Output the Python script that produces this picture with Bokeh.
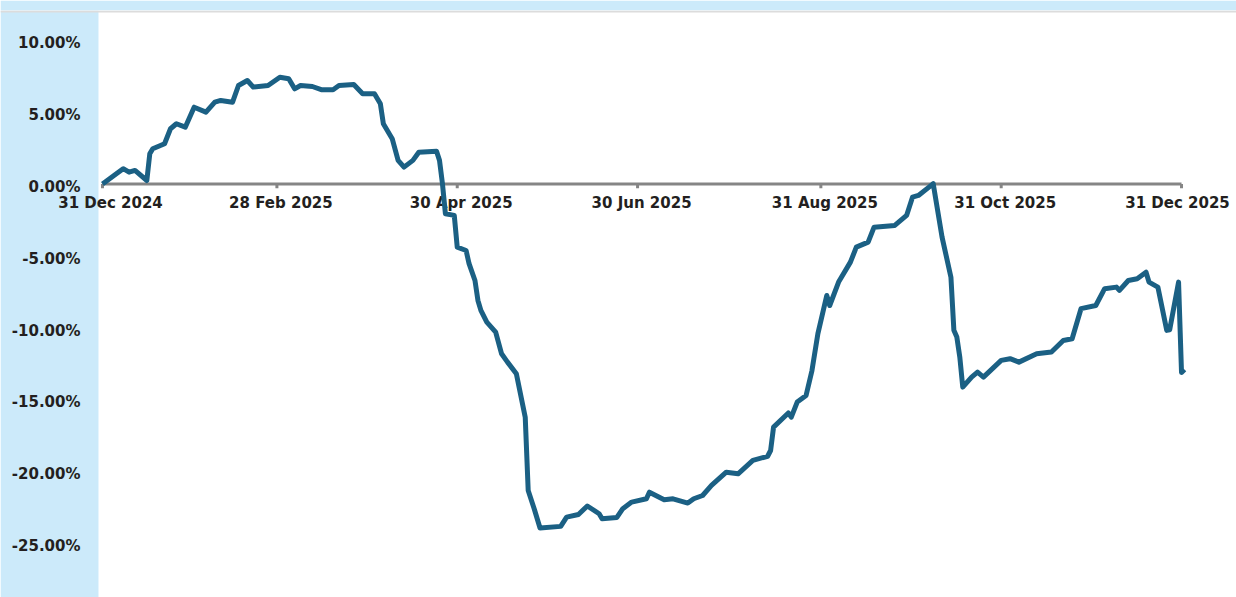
import pandas as pd
from bokeh.plotting import figure
from bokeh.models import (Range1d, ColumnDataSource, Span, BoxAnnotation)
from bokeh.core.properties import value
from bokeh.embed import file_html
from bokeh.resources import INLINE

# ---- data ----
dates = [
    "2024-12-31", "2025-01-04", "2025-01-07", "2025-01-09", "2025-01-11", "2025-01-15",
    "2025-01-16", "2025-01-17", "2025-01-21", "2025-01-23", "2025-01-25", "2025-01-28",
    "2025-01-31", "2025-02-04", "2025-02-07", "2025-02-09", "2025-02-13", "2025-02-15",
    "2025-02-18", "2025-02-20", "2025-02-25", "2025-03-01", "2025-03-04", "2025-03-06",
    "2025-03-08", "2025-03-12", "2025-03-15", "2025-03-19", "2025-03-21", "2025-03-26",
    "2025-03-29", "2025-04-02", "2025-04-04", "2025-04-05", "2025-04-08", "2025-04-10",
    "2025-04-12", "2025-04-15", "2025-04-17", "2025-04-23", "2025-04-24", "2025-04-25",
    "2025-04-26", "2025-04-29", "2025-04-30", "2025-05-03", "2025-05-04", "2025-05-06",
    "2025-05-07", "2025-05-08", "2025-05-10", "2025-05-13", "2025-05-15", "2025-05-17",
    "2025-05-20", "2025-05-23", "2025-05-24", "2025-05-26", "2025-05-28", "2025-06-04",
    "2025-06-06", "2025-06-10", "2025-06-13", "2025-06-17", "2025-06-18", "2025-06-23",
    "2025-06-25", "2025-06-28", "2025-07-03", "2025-07-04", "2025-07-09", "2025-07-12",
    "2025-07-17", "2025-07-19", "2025-07-22", "2025-07-25", "2025-07-30", "2025-08-03",
    "2025-08-08", "2025-08-13", "2025-08-14", "2025-08-15", "2025-08-20", "2025-08-21",
    "2025-08-23", "2025-08-26", "2025-08-28", "2025-08-30", "2025-09-02", "2025-09-03",
    "2025-09-06", "2025-09-10", "2025-09-12", "2025-09-16", "2025-09-18", "2025-09-25",
    "2025-09-29", "2025-10-01", "2025-10-03", "2025-10-07", "2025-10-08", "2025-10-11",
    "2025-10-14", "2025-10-15", "2025-10-16", "2025-10-17", "2025-10-18", "2025-10-21",
    "2025-10-23", "2025-10-25", "2025-10-31", "2025-11-03", "2025-11-06", "2025-11-12",
    "2025-11-17", "2025-11-21", "2025-11-24", "2025-11-27", "2025-12-02", "2025-12-05",
    "2025-12-09", "2025-12-10", "2025-12-13", "2025-12-16", "2025-12-19", "2025-12-20",
    "2025-12-23", "2025-12-26", "2025-12-27", "2025-12-30", "2025-12-31", "2026-01-01",
]
returns_pct = [
    0.00, 0.60, 1.06, 0.82, 0.94, 0.24,
    2.10, 2.45, 2.80, 3.84, 4.19, 3.95,
    5.34, 5.00, 5.69, 5.81, 5.69, 6.85,
    7.20, 6.74, 6.85, 7.43, 7.32, 6.62,
    6.85, 6.78, 6.56, 6.56, 6.85, 6.92,
    6.28, 6.28, 5.58, 4.19, 3.15, 1.64,
    1.17, 1.64, 2.21, 2.28, 1.64, 0.01,
    -2.07, -2.19, -4.40, -4.63, -5.55, -6.72,
    -8.11, -8.80, -9.62, -10.31, -11.82, -12.40,
    -13.21, -16.23, -21.33, -22.58, -23.94, -23.83,
    -23.19, -23.00, -22.41, -22.95, -23.30, -23.21,
    -22.60, -22.14, -21.91, -21.45, -21.98, -21.91,
    -22.21, -21.91, -21.68, -20.98, -20.06, -20.17,
    -19.24, -18.95, -18.55, -16.92, -15.94, -16.23,
    -15.18, -14.72, -12.98, -10.42, -7.76, -8.46,
    -6.83, -5.44, -4.40, -4.05, -3.01, -2.89,
    -2.19, -0.92, -0.80, -0.15, 0.02, -3.70,
    -6.49, -10.19, -10.66, -12.05, -14.14, -13.44,
    -13.10, -13.44, -12.28, -12.16, -12.40, -11.82,
    -11.70, -10.89, -10.77, -8.68, -8.46, -7.29,
    -7.18, -7.41, -6.72, -6.60, -6.14, -6.83,
    -7.18, -10.19, -10.15, -6.83, -13.12, -12.91,
]
tick_dates = ["2024-12-31", "2025-02-28", "2025-04-30", "2025-06-30",
              "2025-08-31", "2025-10-31", "2025-12-31"]
tick_labels = ["31 Dec 2024", "28 Feb 2025", "30 Apr 2025", "30 Jun 2025",
               "31 Aug 2025", "31 Oct 2025", "31 Dec 2025"]
y_ticks = [10, 5, 0, -5, -10, -15, -20, -25]
y_labels = ["%.2f%%" % v for v in y_ticks]

# ---- build ----
x = pd.to_datetime(dates)
tx = pd.to_datetime(tick_dates)
src = ColumnDataSource(dict(x=x, y=returns_pct))

day = pd.Timedelta(days=1)
t0 = tx[0]
x0 = t0 - 34.5 * day          # left edge of the picture
x1 = t0 + 383.6 * day         # right edge of the picture
panel_edge = t0 - 1.35 * day  # where the white plot panel begins
ylab_x = t0 - 7.44 * day      # right edge of the y labels

FONT = "DejaVu Sans"
TXT = "#231f20"
BLUE_BG = "#cceafa"

p = figure(width=1236, height=597, x_axis_type="datetime",
           x_axis_location=None, y_axis_location=None,
           output_backend="svg", toolbar_location=None,
           x_range=Range1d(x0, x1), y_range=Range1d(-28.78, 12.07))
p.min_border_left = 0
p.min_border_right = 0
p.min_border_top = 10
p.min_border_bottom = 0
p.border_fill_color = BLUE_BG
p.background_fill_color = "white"
p.outline_line_color = None
p.grid.visible = False

# light-blue band behind the y labels
p.add_layout(BoxAnnotation(right=panel_edge.value / 1e6, fill_color=BLUE_BG, fill_alpha=1,
                           line_color=None, level="underlay"))
# thin grey top border of the white panel
p.add_layout(Span(location=12.0, dimension="width", line_color="#dcdcdc", line_width=2,
                  level="underlay"))

# y tick labels
p.text(x=[ylab_x] * len(y_ticks), y=y_ticks, text=y_labels, y_offset=3,
       text_align="right", text_baseline="middle",
       text_font=value(FONT), text_font_style="bold", text_font_size="15px",
       text_color=TXT)

# x axis drawn at zero
p.segment(x0=[tx[0]], y0=[0], x1=[tx[-1]], y1=[0], line_color="#858585", line_width=3)
p.segment(x0=tx, y0=[0] * len(tx), x1=tx, y1=[-0.3] * len(tx),
          line_color="#858585", line_width=3)
lab_src = ColumnDataSource(dict(x=tx, y=[-1.36] * len(tx), t=tick_labels,
                                dx=[8, 4, 4, 4, 4, 4, -4]))
p.text(x="x", y="y", text="t", x_offset="dx", source=lab_src,
       text_align="center", text_baseline="middle",
       text_font=value(FONT), text_font_style="bold", text_font_size="15px",
       text_color=TXT)

p.line("x", "y", source=src, line_color="#1b6084", line_width=5, line_join="round")

open("out.html", "w").write(file_html(p, INLINE))
